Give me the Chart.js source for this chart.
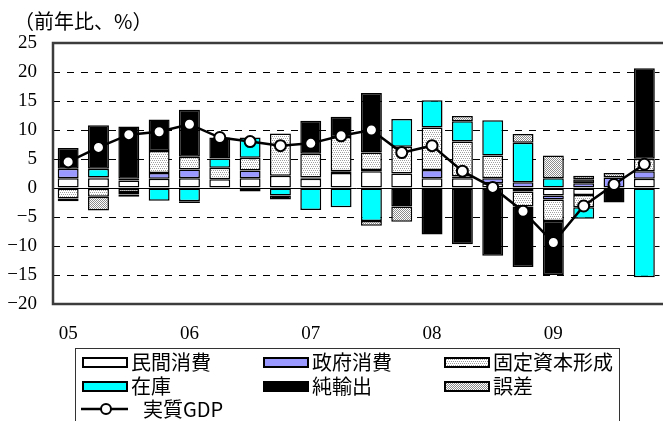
<!DOCTYPE html>
<html>
<head>
<meta charset="utf-8">
<script src="https://cdn.jsdelivr.net/npm/chart.js@4"></script>
<style>
  html, body { margin: 0; padding: 0; background: #fff; overflow: hidden; }
  #wrap { position: relative; width: 663px; height: 421px; overflow: hidden; }
  #chart { position: absolute; left: 0; top: 0; }
  #unit { position: absolute; left: 14px; top: 9px; font: 20px "Noto Sans CJK JP"; line-height: 24px; color: #000; }
  #legend { position: absolute; left: 75px; top: 348px; width: 543px; height: 90px; border: 1px solid #333; font: 20px "Noto Sans CJK JP"; color: #000; }
  .sw { position: absolute; box-sizing: border-box; width: 46px; height: 11px; border: 2px solid #000; }
  .txt { position: absolute; line-height: 24px; white-space: nowrap; }
</style>
</head>
<body>
<div id="wrap">
  <canvas id="chart" width="667" height="348"></canvas>
  <div id="unit">（前年比、%）</div>
  <div id="legend"></div>
</div>
<script>
// Quarters 2005Q1 - 2009Q4
const quarters = ['05Q1', '05Q2', '05Q3', '05Q4', '06Q1', '06Q2', '06Q3', '06Q4',
                  '07Q1', '07Q2', '07Q3', '07Q4', '08Q1', '08Q2', '08Q3', '08Q4',
                  '09Q1', '09Q2', '09Q3', '09Q4'];
const yearLabels = ['05', '06', '07', '08', '09'];

// Contributions (前年比寄与度, %)
const privateCons = [1.7, 1.7, 1.3, 1.6, 1.7, 1.5, 1.7, 2.1, 1.6, 2.6, 2.9, 2.5, 1.7, 1.7, 0.8, -0.6, -1.3, -1.2, null, 1.6];
const govCons     = [1.6, 0.1, 0.3, 1.0, 1.5, null, 1.3, null, 0.2, 0.3, 0.2, null, 1.4, 0.3, 0.9, 1.0, -0.7, 0.8, 1.8, 1.3];
const fixedInv    = [-1.8, -1.5, -0.7, 3.8, 2.2, 2.0, 2.2, 7.3, 4.1, 5.9, 3.0, 4.6, 7.35, 6.0, 3.9, -2.6, -3.7, -2.1, null, 2.15];
const inventory   = [null, 1.5, -0.4, -2.2, -2.3, 1.6, 3.5, -1.3, -3.8, -3.3, -5.7, 4.8, 4.7, 3.5, 6.1, 6.8, 1.7, -2.0, null, -15.4];
const netExports  = [3.6, 7.5, 9.0, 5.4, 8.1, 3.6, -0.6, -0.7, 5.7, 3.5, 10.3, -3.2, -8.0, -9.7, -11.7, -10.4, -9.3, 0.7, -2.5, 15.6];
const discrepancy = [-0.5, -2.4, -0.4, null, -0.3, null, null, null, null, null, -0.8, -2.6, null, 0.9, null, 1.5, 3.9, 0.6, 0.8, null];
const realGdp     = [4.5, 7.0, 9.2, 9.7, 11.0, 8.7, 8.0, 7.3, 7.7, 9.0, 10.0, 6.1, 7.3, 2.9, 0.1, -4.0, -9.4, -3.1, 0.6, 4.1];

// dotted fills
function makeTile(size, dots, color) {
    const c = document.createElement('canvas');
    c.width = c.height = size;
    const g = c.getContext('2d');
    g.fillStyle = '#fff';
    g.fillRect(0, 0, size, size);
    g.fillStyle = color;
    dots.forEach(([x, y]) => g.fillRect(x, y, 1, 1));
    return c;
}
const lightTile = makeTile(4, [[0, 0], [2, 0], [1, 2], [3, 2]], '#a0a0a0');
const darkTile = makeTile(2, [[0, 0], [1, 1]], '#8c8c8c');

const canvas = document.getElementById('chart');
const ctx = canvas.getContext('2d');
const lightPattern = ctx.createPattern(lightTile, 'repeat');
const darkPattern = ctx.createPattern(darkTile, 'repeat');

function barSet(label, data, fill) {
    return {
        type: 'bar', label, data,
        backgroundColor: fill,
        borderColor: '#000',
        borderWidth: 1.5,
        borderSkipped: false,
        barPercentage: 0.69,
        categoryPercentage: 1,
        stack: 'parts',
        order: 1
    };
}

// plot frame
const framePlugin = {
    id: 'frame',
    afterDatasetsDraw(chart) {
        const { ctx, chartArea: a } = chart;
        ctx.save();
        ctx.strokeStyle = '#3c3c3c';
        ctx.lineWidth = 2.5;
        ctx.strokeRect(a.left, a.top, a.right - a.left + 10, a.bottom - a.top);
        ctx.restore();
    }
};

const serif = { family: 'Liberation Serif', size: 19 };

function drawChart() {
    new Chart(ctx, {
        data: {
            labels: quarters,
            datasets: [
                barSet('民間消費', privateCons, '#ffffff'),
                barSet('政府消費', govCons, '#9999ff'),
                barSet('固定資本形成', fixedInv, lightPattern),
                barSet('在庫', inventory, '#00ffff'),
                barSet('純輸出', netExports, '#000000'),
                barSet('誤差', discrepancy, darkPattern),
                {
                    type: 'line', label: '実質GDP', data: realGdp,
                    borderColor: '#000', borderWidth: 2.5,
                    pointRadius: 5.5, pointBorderWidth: 2,
                    pointBackgroundColor: '#fff', pointBorderColor: '#000',
                    stack: 'gdp', order: 0
                }
            ]
        },
        options: {
            responsive: false,
            animation: false,
            layout: { padding: { top: 43, right: 1, left: 0, bottom: 0 } },
            plugins: { legend: { display: false }, tooltip: { enabled: false } },
            scales: {
                x: {
                    stacked: true,
                    grid: { display: false, drawTicks: false },
                    border: { display: false },
                    ticks: {
                        autoSkip: false, maxRotation: 0, padding: 19, color: '#000', font: serif,
                        callback: (v, i) => (i % 4 === 0 ? yearLabels[i / 4] : '')
                    },
                    afterFit: s => { s.height = 44; }
                },
                y: {
                    stacked: true,
                    min: -20, max: 25,
                    ticks: {
                        stepSize: 5, padding: 16, color: '#000', font: serif,
                        callback: v => String(v).replace('-', '−')
                    },
                    grid: {
                        drawTicks: false,
                        lineWidth: 1,
                        color: c => (c.tick && (c.tick.value === 25 || c.tick.value === -20)) ? 'rgba(0,0,0,0)' : '#000'
                    },
                    border: {
                        display: false,
                        dash: c => (c.tick && c.tick.value !== 0) ? [7, 7] : []
                    },
                    afterFit: s => { s.width = 53; }
                }
            }
        },
        plugins: [framePlugin]
    });
}

document.fonts.load('19px "Liberation Serif"').then(drawChart, drawChart);

// Legend (3 columns, boxed)
const legendEl = document.getElementById('legend');
const legendItems = [
    { label: '民間消費', bg: '#ffffff', col: 0, row: 0 },
    { label: '政府消費', bg: '#9999ff', col: 1, row: 0 },
    { label: '固定資本形成', bg: 'url(' + lightTile.toDataURL() + ')', col: 2, row: 0 },
    { label: '在庫', bg: '#00ffff', col: 0, row: 1 },
    { label: '純輸出', bg: '#000000', col: 1, row: 1 },
    { label: '誤差', bg: 'url(' + darkTile.toDataURL() + ')', col: 2, row: 1 }
];
const colX = [6, 187, 368];
const rowY = [13, 37, 60];
legendItems.forEach(it => {
    const sw = document.createElement('div');
    sw.className = 'sw';
    sw.style.left = colX[it.col] + 'px';
    sw.style.top = (rowY[it.row] - 5.5) + 'px';
    sw.style.background = it.bg;
    legendEl.appendChild(sw);
    const t = document.createElement('div');
    t.className = 'txt';
    t.style.left = (colX[it.col] + 49) + 'px';
    t.style.top = (rowY[it.row] - 12) + 'px';
    t.textContent = it.label;
    legendEl.appendChild(t);
});
// line + marker entry
const gdpIcon = document.createElementNS('http://www.w3.org/2000/svg', 'svg');
gdpIcon.setAttribute('width', '48');
gdpIcon.setAttribute('height', '16');
gdpIcon.style.position = 'absolute';
gdpIcon.style.left = '5px';
gdpIcon.style.top = (rowY[2] - 8) + 'px';
gdpIcon.innerHTML = '<line x1="0" y1="8" x2="47" y2="8" stroke="#000" stroke-width="2.5"/>' +
    '<circle cx="25" cy="8" r="5" fill="#fff" stroke="#000" stroke-width="2"/>';
legendEl.appendChild(gdpIcon);
const gdpTxt = document.createElement('div');
gdpTxt.className = 'txt';
gdpTxt.style.left = '67px';
gdpTxt.style.top = (rowY[2] - 12) + 'px';
gdpTxt.textContent = '実質GDP';
legendEl.appendChild(gdpTxt);
</script>
</body>
</html>
